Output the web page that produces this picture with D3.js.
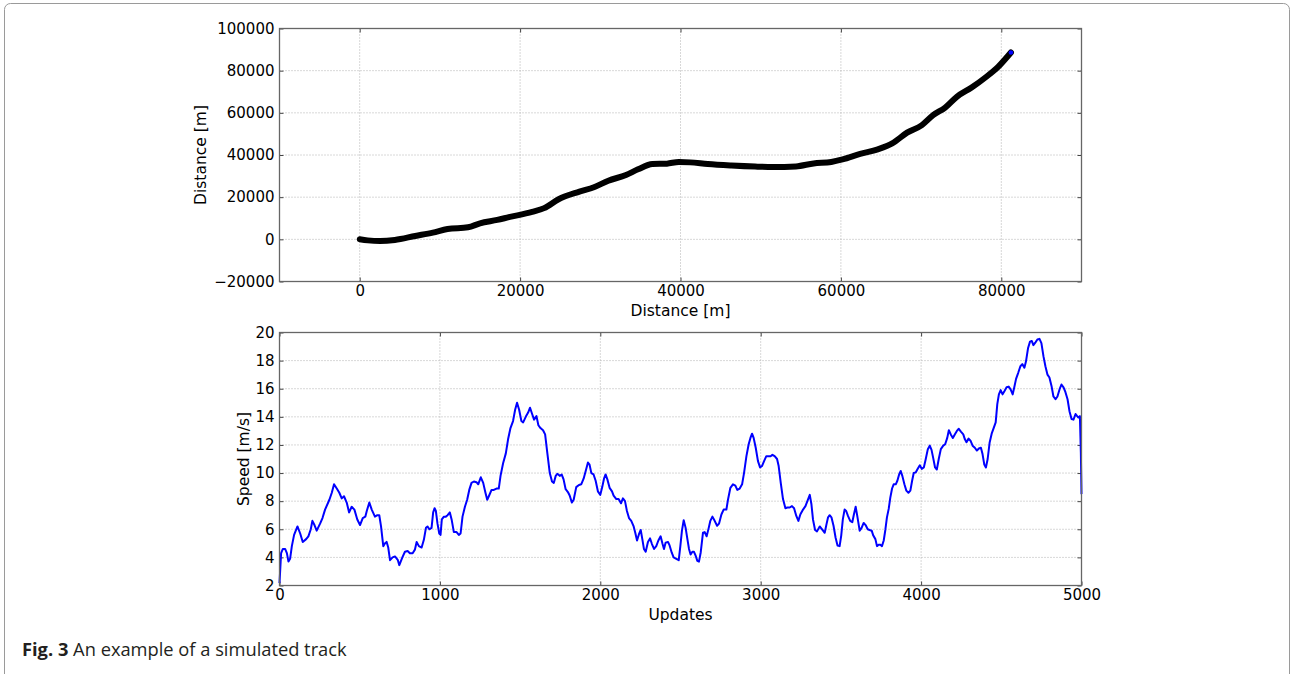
<!DOCTYPE html>
<html>
<head>
<meta charset="utf-8">
<script src="https://cdn.jsdelivr.net/npm/d3@7"></script>
<style>
  html, body { margin: 0; padding: 0; background: #fff; }
  svg { display: block; }
</style>
</head>
<body>
<svg id="chart" width="1291" height="674"></svg>
<script>
// ---------- data ----------
const trackX = [0, 1000, 2550, 4380, 6930, 9120, 10950, 13500, 15000, 17150, 18600, 21500, 23000, 24800, 27400, 29200, 31000, 33200, 34700, 36500, 38300, 39800, 41200, 43400, 46350, 49300, 51500, 54400, 56600, 58800, 60200, 62400, 64600, 66400, 68250, 70100, 71500, 73000, 74450, 76300, 78100, 79600, 81200];
const trackY = [0, -500, -800, -300, 1600, 3200, 4900, 5700, 7600, 9200, 10500, 13000, 14800, 19000, 22600, 24700, 27800, 30500, 33200, 35700, 35900, 36700, 36500, 35700, 35000, 34500, 34300, 34600, 36000, 36700, 37900, 40500, 42700, 45500, 50600, 54200, 58900, 62500, 67600, 72000, 77000, 81800, 88600];

const speedUpdates = [0, 10, 21, 35, 46, 56, 66, 77, 91, 112, 129, 145, 166, 180, 195, 205, 218, 232, 253, 268, 284, 311, 326, 340, 357, 373, 388, 402, 419, 434, 450, 467, 485, 502, 519, 535, 544, 560, 575, 595, 610, 622, 633, 647, 658, 668, 678, 689, 705, 720, 737, 747, 766, 782, 799, 813, 830, 844, 855, 869, 886, 900, 913, 923, 934, 948, 958, 967, 975, 985, 996, 1004, 1012, 1025, 1037, 1048, 1062, 1073, 1087, 1104, 1118, 1129, 1141, 1156, 1170, 1183, 1197, 1212, 1228, 1239, 1255, 1270, 1284, 1295, 1305, 1322, 1336, 1353, 1367, 1378, 1394, 1411, 1425, 1440, 1456, 1469, 1481, 1494, 1508, 1519, 1535, 1550, 1562, 1575, 1587, 1602, 1614, 1627, 1643, 1656, 1670, 1685, 1699, 1710, 1722, 1732, 1747, 1759, 1771, 1784, 1798, 1809, 1823, 1834, 1850, 1867, 1881, 1896, 1909, 1923, 1933, 1944, 1958, 1971, 1985, 2000, 2012, 2023, 2033, 2044, 2058, 2073, 2083, 2100, 2114, 2129, 2141, 2154, 2166, 2179, 2193, 2208, 2218, 2229, 2241, 2252, 2262, 2272, 2283, 2297, 2310, 2322, 2335, 2349, 2362, 2376, 2387, 2397, 2407, 2422, 2432, 2445, 2457, 2474, 2489, 2499, 2509, 2520, 2532, 2543, 2553, 2563, 2574, 2584, 2595, 2605, 2615, 2626, 2640, 2651, 2663, 2676, 2686, 2699, 2713, 2728, 2740, 2755, 2769, 2786, 2796, 2811, 2827, 2842, 2854, 2869, 2884, 2896, 2911, 2925, 2936, 2946, 2956, 2969, 2983, 2996, 3008, 3021, 3035, 3050, 3062, 3073, 3087, 3102, 3112, 3125, 3139, 3154, 3166, 3181, 3195, 3208, 3222, 3235, 3247, 3264, 3279, 3291, 3306, 3316, 3326, 3339, 3351, 3368, 3385, 3399, 3410, 3420, 3430, 3441, 3454, 3467, 3479, 3492, 3502, 3512, 3523, 3533, 3544, 3558, 3571, 3581, 3592, 3602, 3617, 3629, 3642, 3654, 3667, 3679, 3692, 3702, 3715, 3725, 3735, 3746, 3756, 3767, 3777, 3787, 3798, 3808, 3819, 3829, 3842, 3852, 3863, 3873, 3883, 3896, 3908, 3921, 3933, 3944, 3954, 3967, 3979, 3992, 4004, 4017, 4029, 4042, 4054, 4065, 4075, 4087, 4098, 4110, 4123, 4138, 4150, 4163, 4173, 4185, 4198, 4210, 4223, 4235, 4248, 4263, 4273, 4283, 4296, 4308, 4321, 4335, 4348, 4360, 4373, 4383, 4394, 4404, 4415, 4427, 4440, 4454, 4465, 4475, 4485, 4496, 4508, 4521, 4533, 4546, 4558, 4571, 4581, 4592, 4606, 4619, 4631, 4644, 4654, 4667, 4679, 4690, 4700, 4713, 4725, 4738, 4750, 4763, 4775, 4788, 4800, 4813, 4825, 4838, 4850, 4863, 4875, 4888, 4900, 4913, 4925, 4938, 4950, 4963, 4973, 4981, 4990, 4996, 5000];
const speedValues = [2.17, 4.3, 4.6, 4.6, 4.3, 3.7, 3.9, 4.8, 5.6, 6.2, 5.7, 5.1, 5.3, 5.5, 6.0, 6.6, 6.3, 5.9, 6.4, 6.8, 7.4, 8.1, 8.6, 9.2, 8.9, 8.6, 8.2, 8.35, 7.9, 7.2, 7.6, 7.4, 6.7, 6.3, 6.8, 6.9, 7.3, 7.9, 7.4, 6.9, 7.0, 7.0, 6.2, 4.8, 5.0, 5.1, 4.7, 3.8, 4.0, 4.07, 3.83, 3.45, 4.0, 4.4, 4.45, 4.3, 4.3, 4.55, 5.1, 4.8, 4.7, 5.25, 6.1, 6.2, 6.0, 6.1, 7.2, 7.5, 7.3, 6.4, 5.7, 5.6, 6.7, 6.9, 6.9, 7.0, 7.2, 6.7, 5.8, 5.8, 5.6, 5.7, 6.9, 7.6, 8.1, 8.8, 9.3, 9.4, 9.35, 9.2, 9.7, 9.3, 8.6, 8.1, 8.35, 8.8, 8.8, 8.9, 8.9, 9.8, 10.7, 11.4, 12.4, 13.2, 13.7, 14.5, 15.0, 14.5, 13.7, 13.6, 14.0, 14.3, 14.65, 14.2, 13.8, 14.05, 13.4, 13.2, 13.05, 12.75, 11.4, 10.0, 9.4, 9.3, 9.8, 9.95, 9.8, 9.9, 9.55, 8.85, 8.65, 8.4, 7.9, 8.1, 9.0, 9.15, 9.2, 9.6, 10.15, 10.75, 10.6, 10.0, 9.9, 9.45, 8.7, 8.45, 9.0, 9.6, 9.9, 9.55, 8.95, 8.7, 8.4, 8.15, 8.15, 7.85, 8.2, 8.0, 7.3, 6.8, 6.6, 6.2, 5.75, 5.2, 5.65, 5.95, 5.3, 4.6, 4.4, 5.1, 5.35, 4.95, 4.6, 4.8, 5.2, 5.5, 5.0, 4.6, 5.05, 5.1, 4.85, 4.35, 4.0, 3.9, 3.8, 4.8, 5.9, 6.65, 6.1, 5.3, 4.6, 4.2, 4.4, 4.4, 4.1, 3.75, 3.7, 4.35, 5.75, 5.8, 5.5, 6.1, 6.6, 6.9, 6.6, 6.25, 6.4, 7.05, 7.4, 7.4, 8.1, 8.95, 9.2, 9.1, 8.8, 8.9, 9.2, 10.0, 11.2, 12.05, 12.5, 12.8, 12.5, 11.8, 10.85, 10.4, 10.5, 10.85, 11.2, 11.2, 11.2, 11.3, 11.2, 11.0, 10.5, 9.3, 8.15, 7.5, 7.55, 7.55, 7.65, 7.5, 6.95, 6.6, 7.05, 7.4, 7.65, 8.0, 8.45, 7.8, 6.7, 5.95, 5.85, 6.2, 5.95, 5.75, 6.35, 6.85, 7.0, 6.85, 6.25, 5.4, 4.85, 4.8, 5.55, 6.7, 7.4, 7.3, 6.95, 6.6, 6.5, 7.05, 7.6, 6.95, 5.9, 6.1, 6.45, 6.3, 6.0, 5.95, 5.9, 5.55, 5.3, 4.8, 4.9, 4.9, 4.8, 5.2, 5.95, 6.85, 7.45, 8.25, 8.9, 9.2, 9.2, 9.45, 9.9, 10.15, 9.8, 9.2, 8.75, 8.6, 8.75, 9.45, 10.0, 10.05, 10.3, 10.55, 10.3, 10.4, 11.0, 11.7, 11.95, 11.65, 11.1, 10.4, 10.25, 11.0, 11.7, 11.95, 12.05, 12.5, 13.05, 12.75, 12.5, 12.75, 13.0, 13.15, 12.95, 12.75, 12.4, 12.2, 12.45, 12.3, 11.95, 11.8, 11.6, 11.75, 11.8, 11.35, 10.6, 10.4, 11.0, 12.15, 12.8, 13.25, 13.6, 14.9, 15.6, 15.9, 15.6, 15.85, 16.1, 16.15, 15.95, 15.6, 16.1, 16.7, 17.15, 17.6, 17.75, 17.5, 17.95, 18.9, 19.35, 19.4, 19.1, 19.3, 19.5, 19.55, 19.25, 18.3, 17.6, 17.0, 16.8, 16.2, 15.45, 15.25, 15.45, 15.95, 16.3, 16.1, 15.75, 15.25, 14.4, 13.85, 13.8, 14.2, 14.05, 13.95, 14.05, 11.45, 8.5];

const topXTicks = [0, 20000, 40000, 60000, 80000];
const topYTicks = [-20000, 0, 20000, 40000, 60000, 80000, 100000];
const botXTicks = [0, 1000, 2000, 3000, 4000, 5000];
const botYTicks = [2, 4, 6, 8, 10, 12, 14, 16, 18, 20];

// ---------- layout ----------
const svg = d3.select("#chart");
const tickFont = "DejaVu Sans";
const fmt = d => (d < 0 ? "\u2212" + Math.abs(d) : String(d));

// outer figure border
svg.append("rect")
  .attr("x", 4.5).attr("y", 3.5).attr("width", 1285).attr("height", 690)
  .attr("rx", 6).attr("fill", "none").attr("stroke", "#9a9a9a").attr("stroke-width", 1);

function panel(opts) {
  const {left, right, top, bottom, xDomain, yDomain, xTicks, yTicks, xLabel, yLabel, yLabelX} = opts;
  const x = d3.scaleLinear().domain(xDomain).range([left, right]);
  const y = d3.scaleLinear().domain(yDomain).range([bottom, top]);
  const g = svg.append("g");

  // grid
  const grid = g.append("g").attr("stroke", "#b0b0b0").attr("stroke-width", 1)
    .attr("stroke-dasharray", "1,2");
  xTicks.forEach(t => {
    if (x(t) > left + 1 && x(t) < right - 1)
      grid.append("line").attr("x1", x(t)).attr("x2", x(t)).attr("y1", top).attr("y2", bottom);
  });
  yTicks.forEach(t => {
    if (y(t) > top + 1 && y(t) < bottom - 1)
      grid.append("line").attr("x1", left).attr("x2", right).attr("y1", y(t)).attr("y2", y(t));
  });

  // axes with d3 (inner ticks on all sides)
  const axB = d3.axisBottom(x).tickValues(xTicks).tickSizeInner(-4).tickSizeOuter(0).tickPadding(4).tickFormat(fmt);
  const axL = d3.axisLeft(y).tickValues(yTicks).tickSizeInner(-4).tickSizeOuter(0).tickPadding(5).tickFormat(fmt);
  const axT = d3.axisTop(x).tickValues(xTicks).tickSizeInner(-4).tickSizeOuter(0).tickFormat("");
  const axR = d3.axisRight(y).tickValues(yTicks).tickSizeInner(-4).tickSizeOuter(0).tickFormat("");

  const styleAxis = sel => {
    sel.select(".domain").remove();
    sel.selectAll(".tick line").attr("stroke", "#444").attr("stroke-width", 1);
    sel.selectAll(".tick text").attr("font-family", tickFont).attr("font-size", 15).attr("fill", "#000");
  };
  g.append("g").attr("transform", `translate(0,${bottom})`).call(axB).call(styleAxis);
  g.append("g").attr("transform", `translate(${left},0)`).call(axL).call(styleAxis);
  g.append("g").attr("transform", `translate(0,${top})`).call(axT).call(styleAxis);
  g.append("g").attr("transform", `translate(${right},0)`).call(axR).call(styleAxis);

  // labels
  g.append("text").attr("x", (left + right) / 2).attr("y", bottom + 34)
    .attr("text-anchor", "middle").attr("font-family", tickFont).attr("font-size", 15.5)
    .text(xLabel);
  g.append("text").attr("transform", `translate(${yLabelX},${(top + bottom) / 2}) rotate(-90)`)
    .attr("text-anchor", "middle").attr("font-family", tickFont).attr("font-size", 15.5)
    .text(yLabel);

  return {x, y, g, left, right, top, bottom};
}

// ---------- top panel ----------
const P1 = panel({
  left: 279.5, right: 1081.5, top: 28.5, bottom: 281.5,
  xDomain: [-10000, 90000], yDomain: [-20000, 100000],
  xTicks: topXTicks, yTicks: topYTicks,
  xLabel: "Distance [m]", yLabel: "Distance [m]", yLabelX: 206
});
const track = d3.range(trackX.length).map(i => [trackX[i], trackY[i]]);
const trackLine = d3.line().x(d => P1.x(d[0])).y(d => P1.y(d[1])).curve(d3.curveMonotoneX);
P1.g.append("path").datum(track).attr("d", trackLine)
  .attr("fill", "none").attr("stroke", "#0000ff").attr("stroke-width", 1.5);
P1.g.append("path").datum(track).attr("d", trackLine)
  .attr("fill", "none").attr("stroke", "#000").attr("stroke-width", 6)
  .attr("stroke-linecap", "round").attr("stroke-linejoin", "round");
const last = track[track.length - 1];
P1.g.append("circle").attr("cx", P1.x(last[0])).attr("cy", P1.y(last[1])).attr("r", 2.3).attr("fill", "#0000ff");

// frame on top
P1.g.append("rect").attr("x", P1.left).attr("y", P1.top)
  .attr("width", P1.right - P1.left).attr("height", P1.bottom - P1.top)
  .attr("fill", "none").attr("stroke", "#666").attr("stroke-width", 1.3);

// ---------- bottom panel ----------
const P2 = panel({
  left: 279.5, right: 1081.5, top: 332.5, bottom: 585.5,
  xDomain: [0, 5000], yDomain: [2, 20],
  xTicks: botXTicks, yTicks: botYTicks,
  xLabel: "Updates", yLabel: "Speed [m/s]", yLabelX: 249
});
const speed = d3.range(speedUpdates.length).map(i => [speedUpdates[i], speedValues[i]]);
const speedLine = d3.line().x(d => P2.x(d[0])).y(d => P2.y(d[1]));
P2.g.append("path").datum(speed).attr("d", speedLine)
  .attr("fill", "none").attr("stroke", "#0000ff").attr("stroke-width", 2)
  .attr("stroke-linejoin", "round");
P2.g.append("rect").attr("x", P2.left).attr("y", P2.top)
  .attr("width", P2.right - P2.left).attr("height", P2.bottom - P2.top)
  .attr("fill", "none").attr("stroke", "#666").attr("stroke-width", 1.3);

// ---------- caption ----------
const cap = svg.append("text").attr("x", 22).attr("y", 656)
  .attr("font-family", "Open Sans").attr("font-size", 18.3).attr("fill", "#231f20");
cap.append("tspan").attr("font-weight", "bold").text("Fig. 3");
cap.append("tspan").text(" An example of a simulated track");
</script>
</body>
</html>
